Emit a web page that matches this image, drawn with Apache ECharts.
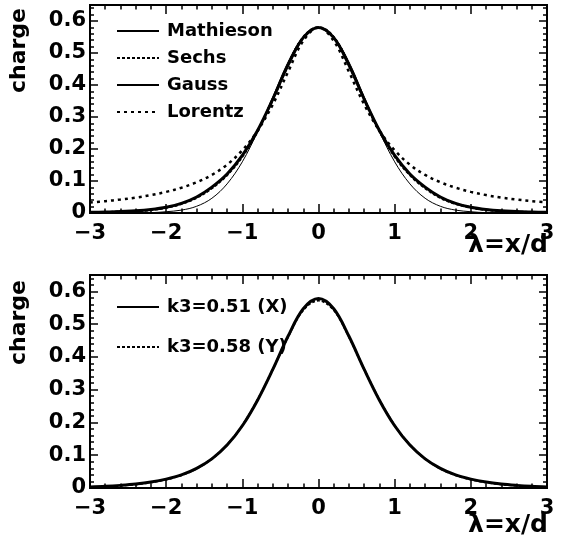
<!DOCTYPE html>
<html>
<head>
<meta charset="utf-8">
<script src="https://cdn.jsdelivr.net/npm/echarts@6/dist/echarts.min.js"></script>
<style>
  html, body { margin: 0; padding: 0; background: #fff; }
  #chart { width: 572px; height: 549px; }
</style>
</head>
<body>
<div id="chart"></div>
<script>
// λ = x/d sample positions
const lambda = [-3.0, -2.8, -2.6, -2.4, -2.2, -2.0, -1.8, -1.6, -1.4, -1.2, -1.0,
                -0.8, -0.6, -0.4, -0.2, 0.0, 0.2, 0.4, 0.6, 0.8, 1.0,
                1.2, 1.4, 1.6, 1.8, 2.0, 2.2, 2.4, 2.6, 2.8, 3.0];

// Upper panel: pad charge fraction for the four response models
const mathieson = [0.002, 0.003, 0.005, 0.007, 0.011, 0.018, 0.030, 0.050, 0.081, 0.122, 0.180,
                   0.258, 0.356, 0.462, 0.548, 0.580, 0.548, 0.462, 0.356, 0.258, 0.180,
                   0.122, 0.081, 0.050, 0.030, 0.018, 0.011, 0.007, 0.005, 0.003, 0.002];
const sechs     = [0.001, 0.002, 0.004, 0.006, 0.010, 0.017, 0.029, 0.048, 0.078, 0.119, 0.177,
                   0.256, 0.355, 0.463, 0.549, 0.580, 0.549, 0.463, 0.355, 0.256, 0.177,
                   0.119, 0.078, 0.048, 0.029, 0.017, 0.010, 0.006, 0.004, 0.002, 0.001];
const gauss     = [0.000, 0.0001, 0.0002, 0.0005, 0.001, 0.004, 0.009, 0.021, 0.046, 0.091, 0.160,
                   0.254, 0.363, 0.472, 0.551, 0.580, 0.551, 0.472, 0.363, 0.254, 0.160,
                   0.091, 0.046, 0.021, 0.009, 0.004, 0.001, 0.0005, 0.0002, 0.0001, 0.000];
const lorentz   = [0.033, 0.037, 0.042, 0.048, 0.056, 0.066, 0.079, 0.096, 0.119, 0.151, 0.196,
                   0.257, 0.339, 0.441, 0.538, 0.580, 0.538, 0.441, 0.339, 0.257, 0.196,
                   0.151, 0.119, 0.096, 0.079, 0.066, 0.056, 0.048, 0.042, 0.037, 0.033];

// Lower panel: Mathieson fits for the two cathode planes
const k3X = [0.003, 0.005, 0.008, 0.012, 0.018, 0.027, 0.040, 0.060, 0.089, 0.131, 0.190,
             0.268, 0.362, 0.463, 0.547, 0.578, 0.547, 0.463, 0.362, 0.268, 0.190,
             0.131, 0.089, 0.060, 0.040, 0.027, 0.018, 0.012, 0.008, 0.005, 0.003];
const k3Y = [0.002, 0.004, 0.007, 0.011, 0.017, 0.026, 0.039, 0.059, 0.089, 0.132, 0.191,
             0.269, 0.362, 0.461, 0.543, 0.572, 0.543, 0.461, 0.362, 0.269, 0.191,
             0.132, 0.089, 0.059, 0.039, 0.026, 0.017, 0.011, 0.007, 0.004, 0.002];

const topNames = ['Mathieson', 'Sechs', 'Gauss', 'Lorentz'];
const bottomNames = ['k3=0.51 (X)', 'k3=0.58 (Y)'];
const xTicks = [-3, -2, -1, 0, 1, 2, 3];
const yTicks = [0, 0.1, 0.2, 0.3, 0.4, 0.5, 0.6];

const FONT = 'DejaVu Sans';
const pairs = ys => lambda.map((x, i) => [x, ys[i]]);

// Per grid: [0] bottom major (labelled), [1] top major, [2] bottom minor, [3] top minor
function xAxes(gridIndex) {
  const mk = (position, interval, len, withLabel) => ({
    type: 'value', gridIndex, min: -3, max: 3, interval, position,
    splitLine: { show: false },
    axisLine: { show: true, onZero: false, lineStyle: { color: '#000', width: 2 } },
    axisTick: { show: true, inside: true, length: len, lineStyle: { color: '#000', width: 1.5 } },
    axisLabel: withLabel ? {
      show: true, margin: 10, color: '#000', fontFamily: FONT, fontWeight: 'bold', fontSize: 21,
      formatter: v => xTicks.includes(v) ? String(v).replace('-', '\u2212') : ''
    } : { show: false }
  });
  return [
    mk('bottom', 1, 9, true),
    mk('top', 1, 9, false),
    mk('bottom', 0.2, 4.5, false),
    mk('top', 0.2, 4.5, false)
  ];
}

// Per grid: [0] left major (labelled), [1] right major, [2] left minor, [3] right minor
function yAxes(gridIndex) {
  const mk = (position, interval, len, withLabel) => ({
    type: 'value', gridIndex, min: 0, max: 0.65, interval, position,
    splitLine: { show: false },
    axisLine: { show: true, onZero: false, lineStyle: { color: '#000', width: 2 } },
    axisTick: { show: true, inside: true, length: len, lineStyle: { color: '#000', width: 1.5 } },
    axisLabel: withLabel ? {
      show: true, margin: 4, color: '#000', fontFamily: FONT, fontWeight: 'bold', fontSize: 21,
      formatter: v => {
        const t = yTicks.find(k => Math.abs(k - v) < 1e-9);
        return t === undefined ? '' : String(t);
      }
    } : { show: false }
  });
  return [
    mk('left', 0.1, 8, true),
    mk('right', 0.1, 8, false),
    mk('left', 0.02, 4, false),
    mk('right', 0.02, 4, false)
  ];
}

function line(name, data, xi, yi, style, z) {
  return {
    name, type: 'line', data: pairs(data), xAxisIndex: xi, yAxisIndex: yi,
    smooth: 0.35, symbol: 'none', showSymbol: false, z: z,
    lineStyle: Object.assign({ color: '#000' }, style),
    itemStyle: { color: '#000' }
  };
}

const legendText = { color: '#000', fontFamily: FONT, fontWeight: 'bold', fontSize: 18, padding: [0, 0, 0, 3] };
const legendCommon = {
  orient: 'vertical', left: 111, itemWidth: 42, itemHeight: 18,
  itemStyle: { opacity: 0 },
  textStyle: legendText
};

const option = {
  animation: false,
  backgroundColor: '#fff',
  grid: [
    { left: 90, top: 5, width: 457, height: 208 },
    { left: 90, top: 275, width: 457, height: 213 }
  ],
  xAxis: [...xAxes(0), ...xAxes(1)],
  yAxis: [...yAxes(0), ...yAxes(1)],
  legend: [
    Object.assign({ data: topNames, top: 17, itemGap: 9 }, legendCommon),
    Object.assign({ data: bottomNames, top: 293, itemGap: 22 }, legendCommon)
  ],
  graphic: [
    { type: 'text', left: 8, top: 8, rotation: Math.PI / 2,
      style: { text: 'charge', fill: '#000', font: 'bold 22px "DejaVu Sans"' } },
    { type: 'text', left: 8, top: 280, rotation: Math.PI / 2,
      style: { text: 'charge', fill: '#000', font: 'bold 22px "DejaVu Sans"' } },
    { type: 'text', right: 24, top: 233,
      style: { text: 'λ=x/d', fill: '#000', font: 'bold 25px "DejaVu Sans"' } },
    { type: 'text', right: 24, top: 513,
      style: { text: 'λ=x/d', fill: '#000', font: 'bold 25px "DejaVu Sans"' } }
  ],
  series: [
    line('Mathieson', mathieson, 0, 0, { width: 3 }, 4),
    line('Sechs', sechs, 0, 0, { width: 2.5, type: [3, 2] }, 3),
    line('Gauss', gauss, 0, 0, { width: 1 }, 2),
    line('Lorentz', lorentz, 0, 0, { width: 2.5, type: [3, 4] }, 2),
    line('k3=0.51 (X)', k3X, 4, 4, { width: 3 }, 3),
    line('k3=0.58 (Y)', k3Y, 4, 4, { width: 2, type: [3, 2] }, 4)
  ]
};

const chart = echarts.init(document.getElementById('chart'), null, { renderer: 'canvas' });
chart.setOption(option);
</script>
</body>
</html>
